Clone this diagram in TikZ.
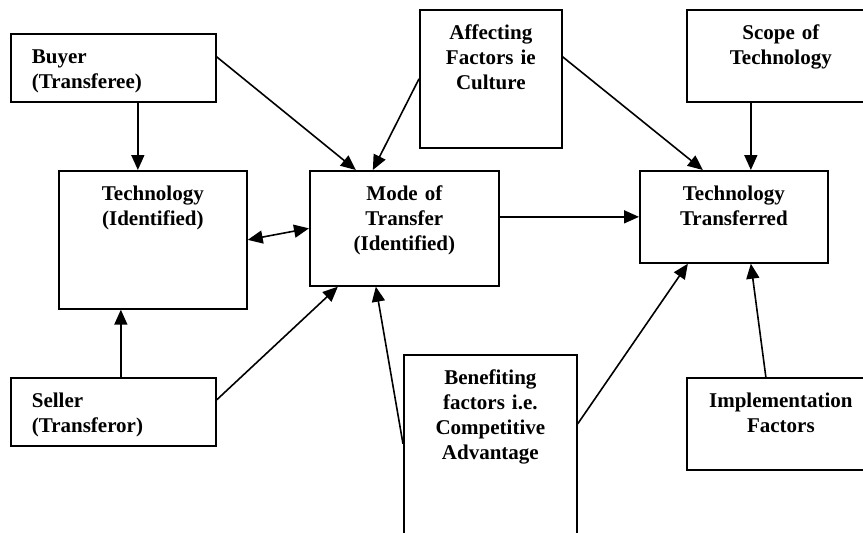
\documentclass[tikz,border=0pt]{standalone}
\usepackage{fontspec}
\setmainfont{Liberation Serif}
\usetikzlibrary{arrows.meta}
\begin{document}
\begin{tikzpicture}[x=1pt, y=-1pt,
  factor/.style={draw, line width=1.7pt, anchor=north west, inner xsep=0pt, inner ysep=0pt,
    align=center, text height=30pt, font=\bfseries\fontsize{21}{25}\selectfont},
  link/.style={-{Triangle[length=15pt,width=13pt]}, line width=1.6pt},
  both/.style={{Triangle[length=15pt,width=13pt]}-{Triangle[length=15pt,width=13pt]}, line width=1.6pt}]
\fill[white] (0,0) rectangle (863,533);
\useasboundingbox (0,0) rectangle (863,533);
\clip (0,0) rectangle (863,533);
\node[factor, align=left, text width=163pt, inner xsep=21pt, text depth=38pt] (buyer) at (10,33) {Buyer\\(Transferee)};
\node[factor, text width=188pt, text depth=108pt] (tech) at (58,170) {Technology\\(Identified)};
\node[factor, align=left, text width=163pt, inner xsep=21pt, text depth=38pt] (seller) at (10,377) {Seller\\(Transferor)};
\node[factor, text width=189pt, text depth=85pt] (mode) at (309,170) {Mode of\\Transfer\\(Identified)};
\node[factor, text width=142pt, text depth=108pt] (affect) at (419,9) {Affecting\\Factors ie\\Culture};
\node[factor, text width=188pt, text depth=62pt] (scope) at (686,9) {Scope of\\Technology};
\node[factor, text width=188pt, text depth=62pt] (tt) at (639,170) {Technology\\Transferred};
\node[factor, text width=173pt, text depth=160pt] (benefit) at (403,354) {Benefiting\\factors i.e.\\Competitive\\Advantage};
\node[factor, text width=188pt, text depth=62pt] (impl) at (686,377) {Implementation\\Factors};
\draw[link] ([xshift=24.5pt]buyer.south) -- ([xshift=-15pt]tech.north);
\draw[link] ([yshift=11pt]buyer.east) -- ([xshift=-48.5pt]mode.north);
\draw[link] ([xshift=7.5pt]seller.north) -- ([xshift=-32pt]tech.south);
\draw[link] ([yshift=12pt]seller.east) -- ([xshift=-66.5pt]mode.south);
\draw[both] (tech.east) -- (mode.west);
\draw[link] (affect.west) -- ([xshift=-31.5pt]mode.north);
\draw[link] ([yshift=22pt]affect.east) -- ([xshift=-31pt]tt.north);
\draw[link] (mode.east |- tt.west) -- (tt.west);
\draw[link] ([xshift=-30pt]scope.south) -- ([xshift=17pt]tt.north);
\draw[link] ([yshift=6pt]benefit.west) -- ([xshift=-28.5pt]mode.south);
\draw[link] ([yshift=26pt]benefit.east) -- ([xshift=-46pt]tt.south);
\draw[link] ([xshift=-15pt]impl.north) -- ([xshift=17pt]tt.south);
\end{tikzpicture}
\end{document}
